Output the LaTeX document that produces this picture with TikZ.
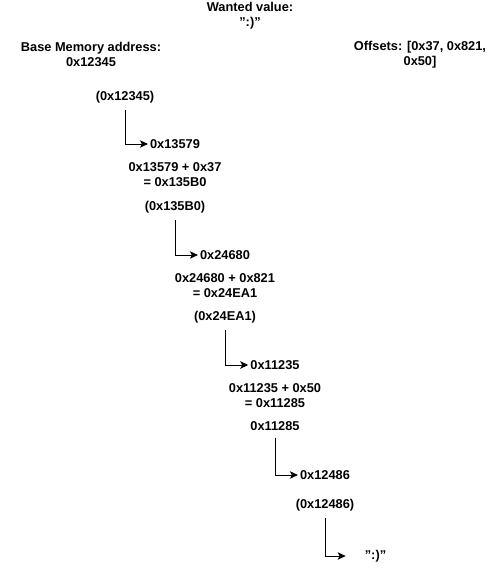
\documentclass[tikz,border=0pt]{standalone}
\usepackage{fontspec}
\setmainfont{Liberation Sans}
\usetikzlibrary{arrows.meta}
\newcommand{\dq}{\symbol{34}}
\begin{document}
\begin{tikzpicture}[x=1pt,y=-1pt,
  lbl/.style={font=\bfseries\fontsize{12.8}{15}\selectfont, align=center, inner sep=2pt},
  ptr/.style={lbl, inner sep=0pt, outer sep=7pt},
  conn/.style={line width=0.9pt, -{Stealth[length=8pt,width=7.5pt,inset=2pt]}}]
\useasboundingbox (0,0) rectangle (501,571);
\node[lbl] (wanted) at (250,16) {Wanted value:\\\dq:)\dq};
\node[lbl] (base) at (91,54.5) {Base Memory address:\\0x12345};
\node[lbl] (offs) at (420,54.5) {Offsets: [0x37, 0x821,\\0x50]};

\node[ptr] (p0) at (125,97) {(0x12345)};
\node[lbl] (v1) at (175,144) {0x13579};
\node[lbl] (s1) at (175,175) {0x13579 + 0x37\\= 0x135B0};

\node[ptr] (p1) at (175,207) {(0x135B0)};
\node[lbl] (v2) at (225,255) {0x24680};
\node[lbl] (s2) at (225,285.5) {0x24680 + 0x821\\= 0x24EA1};

\node[ptr] (p2) at (225,317) {(0x24EA1)};
\node[lbl] (v3) at (275,365) {0x11235};
\node[lbl] (s3) at (275,395.5) {0x11235 + 0x50\\= 0x11285};

\node[ptr] (p3) at (275,426) {0x11285};
\node[lbl] (v4) at (325,475) {0x12486};

\node[ptr] (p4) at (325,505) {(0x12486)};
\node[lbl] (v5) at (375.5,556) {\dq:)\dq};

\draw[conn] (p0.south) |- (v1.west);
\draw[conn] (p1.south) |- (v2.west);
\draw[conn] (p2.south) |- (v3.west);
\draw[conn] (p3.south) |- (v4.west);
\draw[conn, shorten >=17pt] (p4.south) |- (v5.west);
\end{tikzpicture}
\end{document}
